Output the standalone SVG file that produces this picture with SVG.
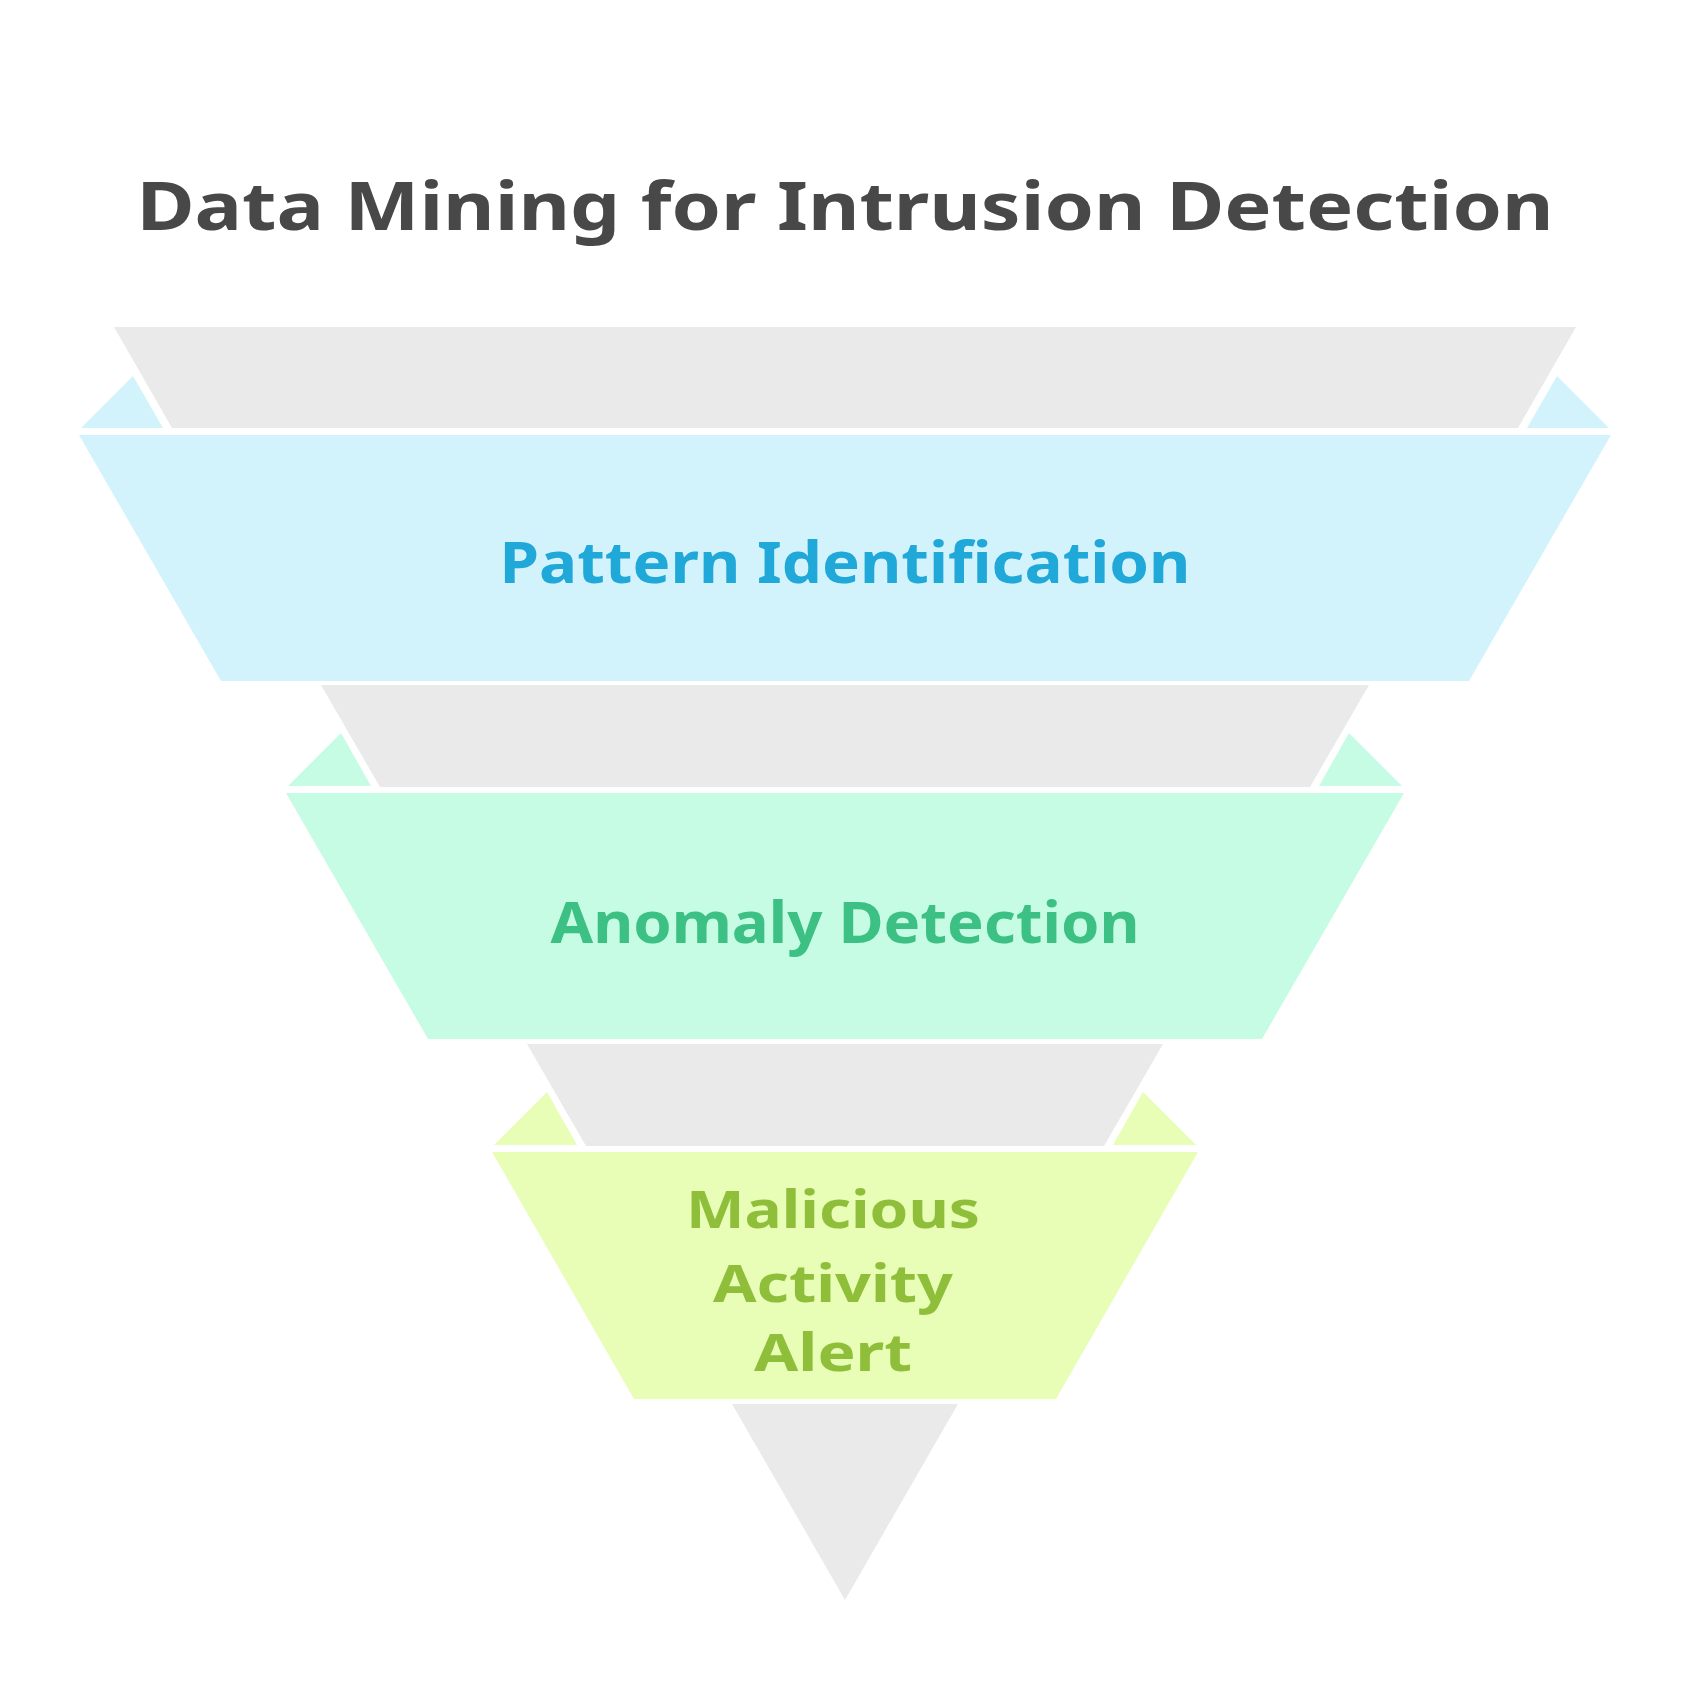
<svg xmlns="http://www.w3.org/2000/svg" width="1694" height="1696" viewBox="0 0 1694 1696">
<style>
.g{fill:#eaeaea}
.t{font-family:"Noto Sans","Liberation Sans",sans-serif;font-weight:bold;text-anchor:middle}
</style>
<rect width="1694" height="1696" fill="#fff"/>
<text class="t" x="845" y="230" font-size="66" fill="#484848" textLength="1417" lengthAdjust="spacingAndGlyphs">Data Mining for Intrusion Detection</text>
<g id="connectors">
<polygon class="g" points="114,327 1576,327 1518,428 172,428"/>
<polygon class="g" points="321,685 1369,685 1310,787 380,787"/>
<polygon class="g" points="527,1044 1163,1044 1104,1146 586,1146"/>
<polygon class="g" points="732,1404 958,1404 845,1600"/>
</g>
<g id="pattern">
<polygon fill="#d3f3fc" points="81,428 163,428 133,376"/>
<polygon fill="#d3f3fc" points="1609,428 1527,428 1557,376"/>
<polygon fill="#d3f3fc" points="79,435 1611,435 1469,681 221,681"/>
<text class="t" x="845" y="583" font-size="58" fill="#1fa8d8" textLength="691" lengthAdjust="spacingAndGlyphs">Pattern Identification</text>
</g>
<g id="anomaly">
<polygon fill="#c6fce3" points="288,786 371,786 341,733"/>
<polygon fill="#c6fce3" points="1402,786 1319,786 1349,733"/>
<polygon fill="#c6fce3" points="286,793 1404,793 1262,1039 428,1039"/>
<text class="t" x="845" y="943" font-size="58" fill="#3cc084" textLength="589" lengthAdjust="spacingAndGlyphs">Anomaly Detection</text>
</g>
<g id="alert">
<polygon fill="#e8fdb6" points="494,1145 577,1145 547,1092"/>
<polygon fill="#e8fdb6" points="1196,1145 1113,1145 1143,1092"/>
<polygon fill="#e8fdb6" points="492,1152 1198,1152 1056,1399 634,1399"/>
<text class="t" x="833" y="1228" font-size="52" fill="#8fbf3a" textLength="294" lengthAdjust="spacingAndGlyphs">Malicious</text>
<text class="t" x="833" y="1302" font-size="52" fill="#8fbf3a" textLength="240" lengthAdjust="spacingAndGlyphs">Activity</text>
<text class="t" x="833" y="1371" font-size="52" fill="#8fbf3a" textLength="158" lengthAdjust="spacingAndGlyphs">Alert</text>
</g>
</svg>
